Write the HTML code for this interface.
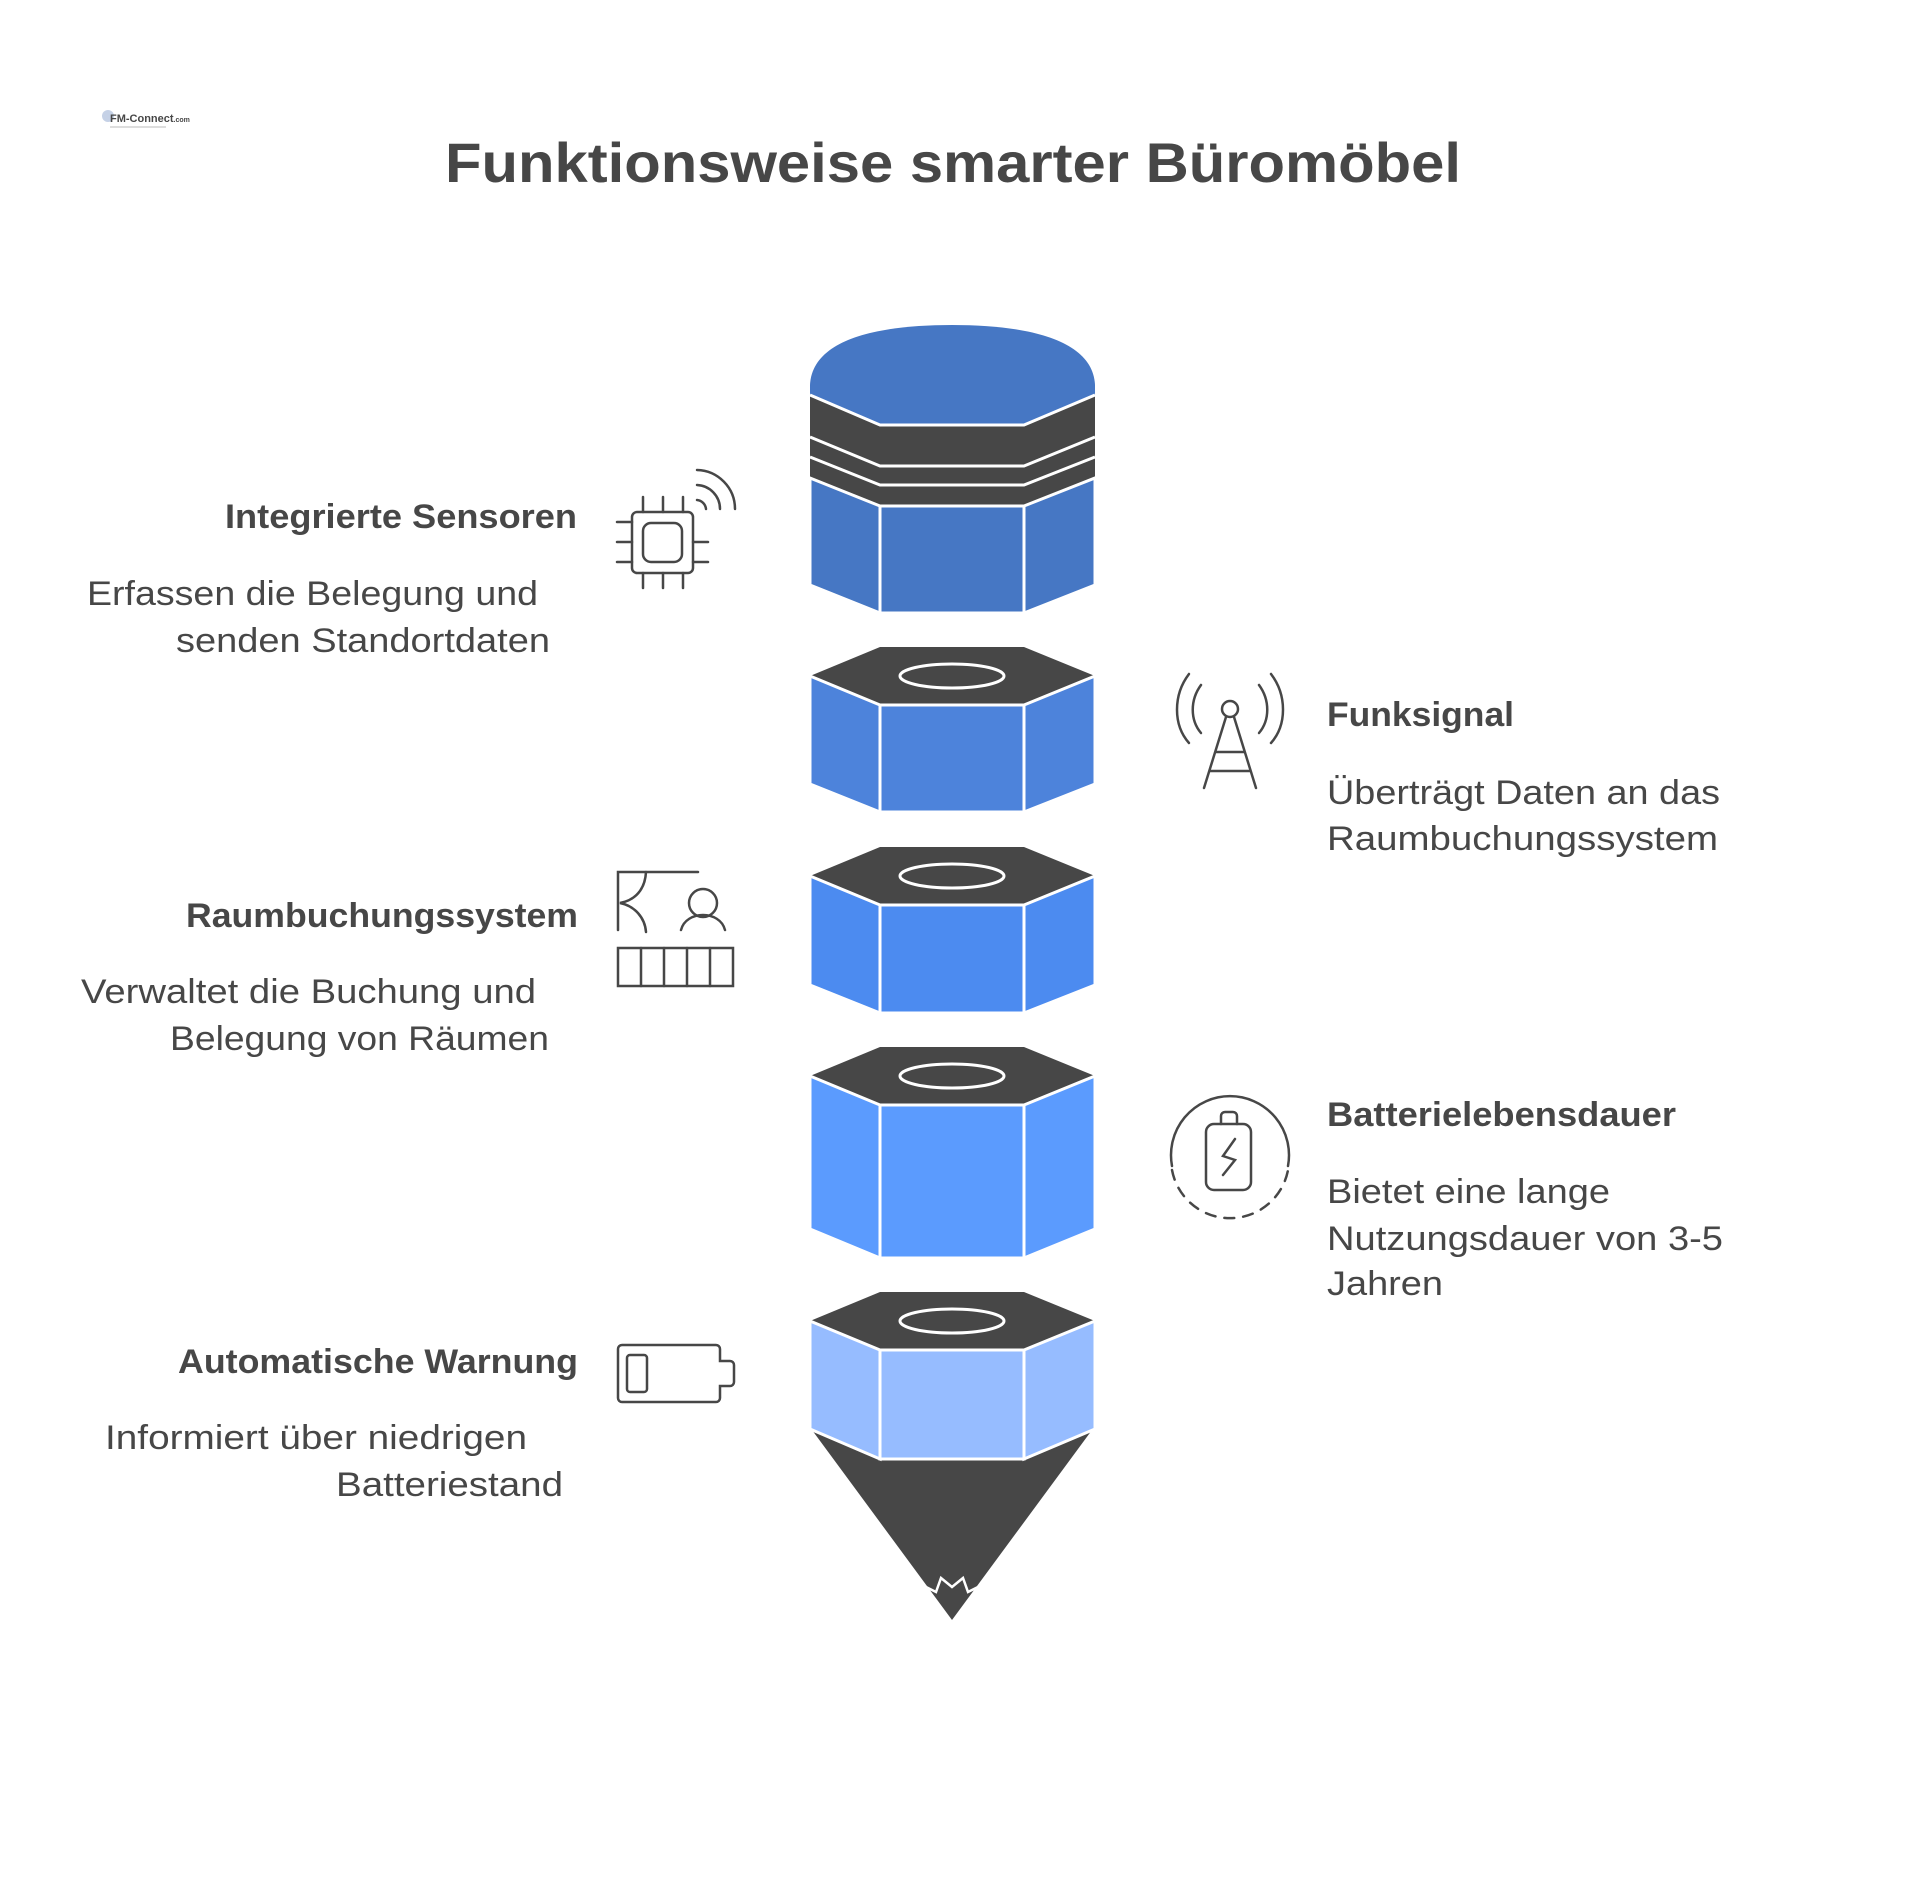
<!DOCTYPE html>
<html><head><meta charset="utf-8"><style>
html,body{margin:0;padding:0;background:#fff;}
svg{display:block;}
text{font-family:"Liberation Sans",Arial,sans-serif;fill:#474747;}
.h{font-weight:bold;font-size:34px;}
.d{font-size:34px;}
</style></head><body>
<svg width="1920" height="1886" viewBox="0 0 1920 1886" xmlns="http://www.w3.org/2000/svg">
<rect width="1920" height="1886" fill="#fff"/>
<g>
<circle cx="108" cy="116" r="6" fill="#9fb3d6" opacity="0.6"/>
<text x="110" y="122" font-size="11" font-weight="bold" fill="#333">FM-Connect<tspan font-size="7">.com</tspan></text>
<line x1="110" y1="127" x2="166" y2="127" stroke="#bbb" stroke-width="1"/>
</g>
<text x="953" y="182" text-anchor="middle" font-size="56" font-weight="bold" textLength="1016" lengthAdjust="spacingAndGlyphs">Funktionsweise smarter Büromöbel</text>

<g stroke="#fff" stroke-width="3" stroke-linejoin="miter">
<path d="M810,395 L810,385 C812,342 870,325 952,325 C1034,325 1093,342 1095,385 L1095,395 L1024,425 L880,425 Z" fill="#4677C4" stroke="none"/>
<polygon points="810,395 880,425 1024,425 1095,395 1095,478 1024,506 880,506 810,478" fill="#474747" stroke="none"/>
<polyline points="810,395 880,425 1024,425 1095,395" fill="none"/>
<polyline points="810,437 880,466 1024,466 1095,437" fill="none"/>
<polyline points="810,457 880,485 1024,485 1095,457" fill="none"/>
<polygon points="810,478 880,506 880,613 810,585" fill="#4677C4"/>
<polygon points="880,506 1024,506 1024,613 880,613" fill="#4677C4"/>
<polygon points="1024,506 1095,478 1095,585 1024,613" fill="#4677C4"/>

<polygon points="880,647 1024,647 1095,676 1024,705 880,705 810,676" fill="#474747" stroke="none"/>
<polygon points="810,676 880,705 880,812 810,784" fill="#4D83DB"/>
<polygon points="880,705 1024,705 1024,812 880,812" fill="#4D83DB"/>
<polygon points="1024,705 1095,676 1095,784 1024,812" fill="#4D83DB"/>
<ellipse cx="952" cy="676" rx="52" ry="12" fill="none"/>

<polygon points="880,847 1024,847 1095,876 1024,905 880,905 810,876" fill="#474747" stroke="none"/>
<polygon points="810,876 880,905 880,1013 810,985" fill="#4C8BF0"/>
<polygon points="880,905 1024,905 1024,1013 880,1013" fill="#4C8BF0"/>
<polygon points="1024,905 1095,876 1095,985 1024,1013" fill="#4C8BF0"/>
<ellipse cx="952" cy="876" rx="52" ry="12" fill="none"/>

<polygon points="880,1047 1024,1047 1095,1076 1024,1105 880,1105 810,1076" fill="#474747" stroke="none"/>
<polygon points="810,1076 880,1105 880,1258 810,1229" fill="#5B9BFE"/>
<polygon points="880,1105 1024,1105 1024,1258 880,1258" fill="#5B9BFE"/>
<polygon points="1024,1105 1095,1076 1095,1229 1024,1258" fill="#5B9BFE"/>
<ellipse cx="952" cy="1076" rx="52" ry="12" fill="none"/>

<polygon points="812,1430 880,1459 1024,1459 1092,1430 952,1620" fill="#474747" stroke="none"/>
<polyline points="920,1584 936,1592 941,1578 952,1587 963,1578 968,1592 984,1584" fill="none" stroke-width="2.5"/>
<polygon points="880,1292 1024,1292 1095,1321 1024,1350 880,1350 810,1321" fill="#474747" stroke="none"/>
<polygon points="810,1321 880,1350 880,1459 810,1429" fill="#96BCFF"/>
<polygon points="880,1350 1024,1350 1024,1459 880,1459" fill="#96BCFF"/>
<polygon points="1024,1350 1095,1321 1095,1429 1024,1459" fill="#96BCFF"/>
<ellipse cx="952" cy="1321" rx="52" ry="12" fill="none"/>
</g>

<g fill="none" stroke="#474747" stroke-width="2.5" stroke-linecap="round">
<rect x="632" y="512" width="61" height="61" rx="5"/>
<rect x="643" y="523" width="39" height="39" rx="8"/>
<line x1="643" y1="497" x2="643" y2="512"/><line x1="663" y1="497" x2="663" y2="512"/><line x1="683" y1="497" x2="683" y2="512"/>
<line x1="643" y1="573" x2="643" y2="588"/><line x1="663" y1="573" x2="663" y2="588"/><line x1="683" y1="573" x2="683" y2="588"/>
<line x1="617" y1="522" x2="632" y2="522"/><line x1="617" y1="542" x2="632" y2="542"/><line x1="617" y1="562" x2="632" y2="562"/>
<line x1="693" y1="542" x2="708" y2="542"/><line x1="693" y1="562" x2="708" y2="562"/>
<path d="M697,500 A10,10 0 0 1 706,509"/>
<path d="M697,485 A24,24 0 0 1 720,509"/>
<path d="M697,470 A39,39 0 0 1 735,509"/>
<polyline points="618,930 618,872 698,872"/>
<path d="M646,872 C645,890 635,900 620,903 C635,906 645,918 646,932"/>
<circle cx="703" cy="903" r="14"/>
<path d="M681,930 C686,910 720,910 725,930"/>
<rect x="618" y="948" width="115" height="38"/>
<line x1="641" y1="948" x2="641" y2="986"/><line x1="664" y1="948" x2="664" y2="986"/><line x1="687" y1="948" x2="687" y2="986"/><line x1="710" y1="948" x2="710" y2="986"/>
<path d="M622,1345 H716 a4,4 0 0 1 4,4 V1361 H730 a4,4 0 0 1 4,4 V1382 a4,4 0 0 1 -4,4 H720 V1398 a4,4 0 0 1 -4,4 H622 a4,4 0 0 1 -4,-4 V1349 a4,4 0 0 1 4,-4 Z"/>
<rect x="627" y="1355" width="20" height="37" rx="3"/>
<circle cx="1230" cy="709" r="8"/>
<line x1="1226" y1="717" x2="1204" y2="788"/><line x1="1234" y1="717" x2="1256" y2="788"/>
<line x1="1216" y1="752" x2="1244" y2="752"/><line x1="1210" y1="771" x2="1250" y2="771"/>
<path d="M1201,685 C1190,700 1190,720 1201,733"/>
<path d="M1189,674 C1173,695 1173,725 1189,743"/>
<path d="M1259,685 C1270,700 1270,720 1259,733"/>
<path d="M1271,674 C1287,695 1287,725 1271,743"/>
<path d="M1172,1166 A59,59 0 1 1 1288,1166"/>
<path d="M1172,1170 A59,59 0 0 0 1288,1170" stroke-dasharray="10,9"/>
<rect x="1206" y="1124" width="45" height="66" rx="8"/>
<path d="M1221,1124 V1116 a4,4 0 0 1 4,-4 h8 a4,4 0 0 1 4,4 V1124"/>
<path d="M1235,1139 L1223,1156 L1235,1160 L1223,1175"/>
</g>

<text class="h" x="577" y="528" text-anchor="end" textLength="352" lengthAdjust="spacingAndGlyphs">Integrierte Sensoren</text>
<text class="d" x="538" y="605" text-anchor="end" textLength="451" lengthAdjust="spacingAndGlyphs">Erfassen die Belegung und</text>
<text class="d" x="550" y="652" text-anchor="end" textLength="374" lengthAdjust="spacingAndGlyphs">senden Standortdaten</text>

<text class="h" x="578" y="927" text-anchor="end" textLength="392" lengthAdjust="spacingAndGlyphs">Raumbuchungssystem</text>
<text class="d" x="536" y="1003" text-anchor="end" textLength="455" lengthAdjust="spacingAndGlyphs">Verwaltet die Buchung und</text>
<text class="d" x="549" y="1050" text-anchor="end" textLength="379" lengthAdjust="spacingAndGlyphs">Belegung von Räumen</text>

<text class="h" x="578" y="1373" text-anchor="end" textLength="400" lengthAdjust="spacingAndGlyphs">Automatische Warnung</text>
<text class="d" x="527" y="1449" text-anchor="end" textLength="422" lengthAdjust="spacingAndGlyphs">Informiert über niedrigen</text>
<text class="d" x="563" y="1496" text-anchor="end" textLength="227" lengthAdjust="spacingAndGlyphs">Batteriestand</text>

<text class="h" x="1327" y="726" textLength="187" lengthAdjust="spacingAndGlyphs">Funksignal</text>
<text class="d" x="1327" y="804" textLength="393" lengthAdjust="spacingAndGlyphs">Überträgt Daten an das</text>
<text class="d" x="1327" y="850" textLength="391" lengthAdjust="spacingAndGlyphs">Raumbuchungssystem</text>

<text class="h" x="1327" y="1126" textLength="349" lengthAdjust="spacingAndGlyphs">Batterielebensdauer</text>
<text class="d" x="1327" y="1203" textLength="283" lengthAdjust="spacingAndGlyphs">Bietet eine lange</text>
<text class="d" x="1327" y="1250" textLength="396" lengthAdjust="spacingAndGlyphs">Nutzungsdauer von 3-5</text>
<text class="d" x="1327" y="1295" textLength="116" lengthAdjust="spacingAndGlyphs">Jahren</text>
</svg>
</body></html>
